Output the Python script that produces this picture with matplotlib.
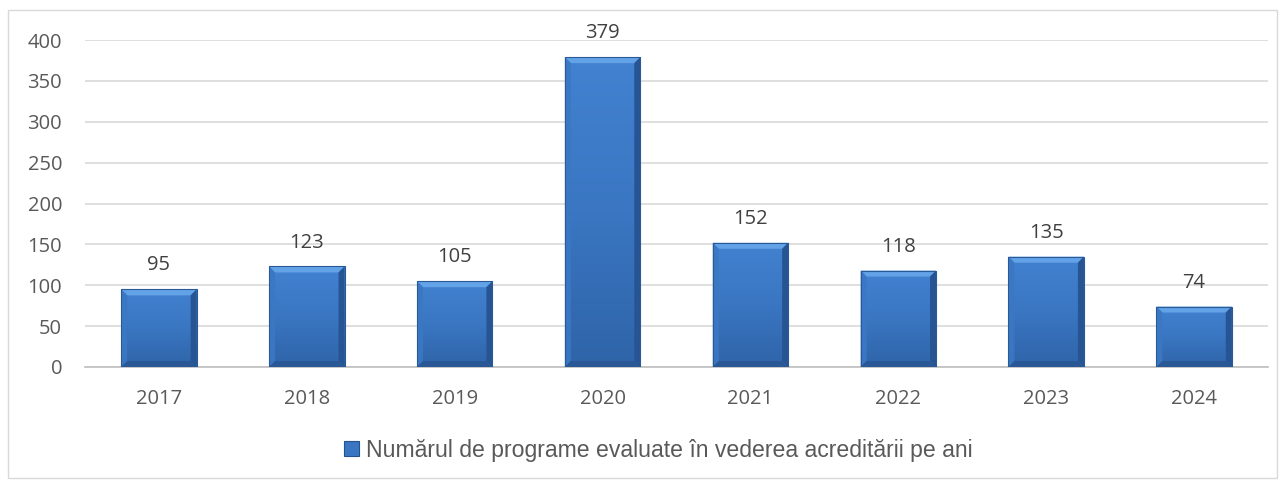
import matplotlib
matplotlib.use("Agg")
import matplotlib.pyplot as plt
import numpy as np
from matplotlib.patches import Polygon, Rectangle
from matplotlib.colors import LinearSegmentedColormap

years = ["2017", "2018", "2019", "2020", "2021", "2022", "2023", "2024"]
values = [95, 123, 105, 379, 152, 118, 135, 74]
legend_label = "Numărul de programe evaluate în vederea acreditării pe ani"
yticks = [0, 50, 100, 150, 200, 250, 300, 350, 400]

W, H = 1285, 484
fig = plt.figure(figsize=(W / 100, H / 100), dpi=100)
fig.patch.set_facecolor("white")

# chart border
fig.patches.append(Rectangle((8 / W, 1 - 478 / H), (1277 - 8) / W, (478 - 10) / H,
                             transform=fig.transFigure, fill=False,
                             edgecolor="#d9d9d9", linewidth=1.0))

left, right = 85 / W, 1268 / W
bottom, top = 1 - 367 / H, 1 - 40 / H
ax = fig.add_axes([left, bottom, right - left, top - bottom])

x = np.arange(len(years))
bw = 0.51
bars = ax.bar(x, values, width=bw, color="#3a74bf", edgecolor="none", zorder=3)

ax.set_xlim(-0.5, len(years) - 0.5)
ax.set_ylim(0, 400)
ax.set_yticks(yticks)
ax.set_xticks(x)
ax.set_xticklabels(years)

FS = 14.5
for lbl in ax.get_yticklabels() + ax.get_xticklabels():
    lbl.set_fontfamily("Open Sans")
    lbl.set_fontsize(FS)
    lbl.set_color("#595959")

ax.tick_params(axis="both", length=0)
ax.tick_params(axis="y", pad=16.5)
ax.tick_params(axis="x", pad=16)
ax.grid(axis="y", color="#d9d9d9", linewidth=1.2, zorder=0)
ax.set_axisbelow(True)
for s in ["top", "right", "left"]:
    ax.spines[s].set_visible(False)
ax.spines["bottom"].set_color("#bfbfbf")
ax.spines["bottom"].set_linewidth(1.2)
ax.spines["bottom"].set_zorder(2)

# gradient fill + bevels
cmap = LinearSegmentedColormap.from_list("g", ["#2f64a8", "#3a76c2", "#4282d0"])
grad = np.linspace(0, 1, 256).reshape(-1, 1)
px_x = 1 / 147.9   # data units per pixel in x
px_y = 400 / 327.0  # data units per pixel in y
bev = 6
for b in bars:
    x0, y0 = b.get_x(), b.get_y()
    w, h = b.get_width(), b.get_height()
    x1, y1 = x0 + w, y0 + h
    im = ax.imshow(grad, extent=[x0, x1, y0, y1], origin="lower", cmap=cmap,
                   aspect="auto", zorder=3.1)
    im.set_clip_path(b)
    dx, dy = bev * px_x, bev * px_y
    ax.add_patch(Polygon([(x0, y1), (x1, y1), (x1 - dx, y1 - dy), (x0 + dx, y1 - dy)],
                         closed=True, facecolor="#64a2e8", edgecolor="none", zorder=3.2))
    ax.add_patch(Polygon([(x0, y0), (x0, y1), (x0 + dx, y1 - dy), (x0 + dx, y0 + dy)],
                         closed=True, facecolor="#3b78c4", edgecolor="none", zorder=3.2, alpha=0.9))
    ax.add_patch(Polygon([(x1, y0), (x1, y1), (x1 - dx, y1 - dy), (x1 - dx, y0 + dy)],
                         closed=True, facecolor="#275594", edgecolor="none", zorder=3.2))
    ax.add_patch(Polygon([(x0, y0), (x1, y0), (x1 - dx, y0 + dy), (x0 + dx, y0 + dy)],
                         closed=True, facecolor="#2a5896", edgecolor="none", zorder=3.2))
    ax.add_patch(Rectangle((x0, y0), w, h, fill=False, edgecolor="#2a5a96",
                           linewidth=0.8, zorder=3.3))

for xi, v in zip(x, values):
    ax.annotate(str(v), (xi, v), xytext=(0, 10), textcoords="offset points",
                ha="center", va="bottom", fontsize=FS, family="Open Sans",
                color="#404040", zorder=4)

handle = Rectangle((0, 0), 1, 1, facecolor="#3a76c2", edgecolor="#24528e", linewidth=0.8)
fig.legend([handle], [legend_label], loc="center", bbox_to_anchor=(658 / W, 1 - 450 / H),
           frameon=False, handlelength=0.65, handleheight=0.65, handletextpad=0.3,
           prop=dict(family="Liberation Sans", size=16.6), labelcolor="#595959")

fig.savefig("out.png", dpi=100)
